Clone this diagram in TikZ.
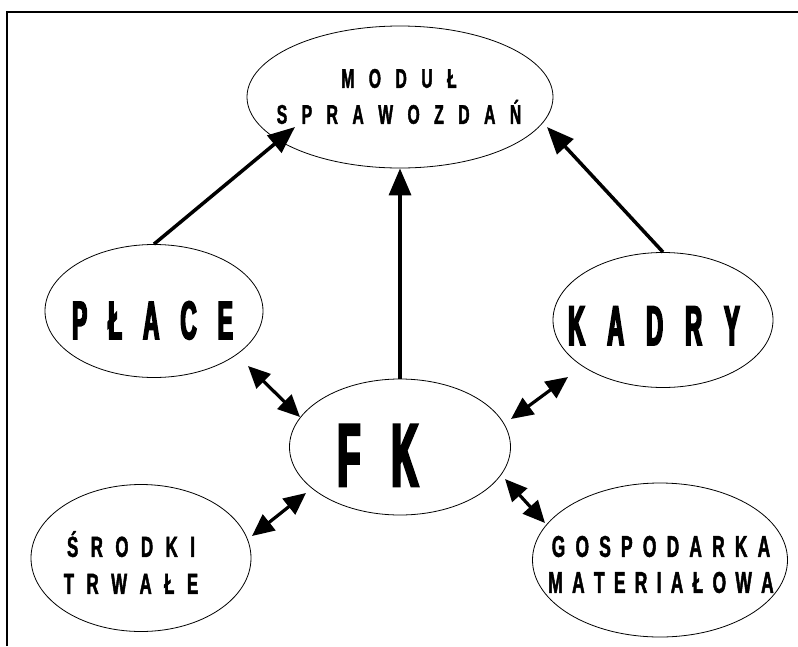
\documentclass[tikz,border=0pt]{standalone}
\usepackage{fontspec}
\usetikzlibrary{shapes.geometric,arrows.meta}
\newfontfamily\fontbig{Liberation Sans Bold}[FakeStretch=0.42,FakeBold=3]
\newfontfamily\fontsmall{Liberation Sans Bold}[FakeStretch=0.58,FakeBold=1.5]
\newcommand\gapA{\spaceskip=14.5pt\relax}
\newcommand\gapS{\spaceskip=12.5pt\relax}
\newcommand\gapG{\spaceskip=10.2pt\relax}
\newcommand\gapH{\spaceskip=9.3pt\relax}
\begin{document}
\begin{tikzpicture}[x=1pt,y=-1pt,
  ell/.style={draw, ellipse, line width=0.8pt, inner sep=0pt},
  bigtxt/.style={inner sep=0pt, anchor=base},
  smalltxt/.style={inner sep=0pt, align=center},
  arr/.style={line width=3.5pt, -{Triangle[length=27pt,width=22pt]}},
  darr/.style={line width=3.2pt, {Triangle[length=22pt,width=20pt]}-{Triangle[length=22pt,width=20pt]}}]
\useasboundingbox (0,0) rectangle (798,646);
\draw[line width=1.6pt] (7,646) -- (7,12) -- (798,12);
% ellipses
\node[ell, minimum width=306pt, minimum height=142pt] (M) at (400,97) {};
\node[ell, minimum width=218pt, minimum height=133pt] (P) at (154,311) {};
\node[ell, minimum width=220pt, minimum height=135pt] (K) at (663,320) {};
\node[ell, minimum width=221pt, minimum height=136pt] (F) at (400,447) {};
\node[ell, minimum width=220pt, minimum height=147pt] (S) at (141,558) {};
\node[ell, minimum width=255pt, minimum height=154pt] (G) at (660,560) {};
% texts
\node[smalltxt, font={\fontsize{27}{36}\selectfont\fontsmall}] (Mt) at (399,96.5)
  {\gapA M O D U Ł\\\gapA S P R A W O Z D A Ń};
\node[bigtxt, font={\fontsize{54}{54}\selectfont\fontbig}] (Pt) at (152.5,339)
  {\spaceskip=21pt\relax P Ł A C E};
\node[bigtxt, font={\fontsize{56}{56}\selectfont\fontbig}] (Kt) at (654,345)
  {\spaceskip=22pt\relax K A D R Y};
\node[bigtxt, font={\fontsize{89}{89}\selectfont\fontbig}] (Ft) at (378,486)
  {\spaceskip=31pt\relax F K};
\node[smalltxt, font={\fontsize{29}{37}\selectfont\fontsmall}] (St) at (131,562.5)
  {\gapS Ś R O D K I\\\gapS T R W A Ł E};
\node[smalltxt, font={\fontsize{30}{36}\selectfont\fontsmall}] (Gt) at (661,564.5)
  {\gapG G O S P O D A R K A\\\gapH M A T E R I A Ł O W A};
% connector end points
\coordinate (mL) at (295,127);
\coordinate (mR) at (547,127);
\coordinate (pf1) at (248,366);
\coordinate (pf2) at (300,417);
\coordinate (kf1) at (568,377);
\coordinate (kf2) at (511,419);
\coordinate (sf1) at (252,536);
\coordinate (sf2) at (306,493);
\coordinate (gf1) at (505,479);
\coordinate (gf2) at (545,523);
% arrows
\draw[arr] (P.north) -- (mL);
\draw[arr] (K.north) -- (mR);
\draw[arr] (F.north) -- (M.south);
\draw[darr] (pf1) -- (pf2);
\draw[darr] (kf1) -- (kf2);
\draw[darr] (sf1) -- (sf2);
\draw[darr] (gf1) -- (gf2);
\end{tikzpicture}
\end{document}
